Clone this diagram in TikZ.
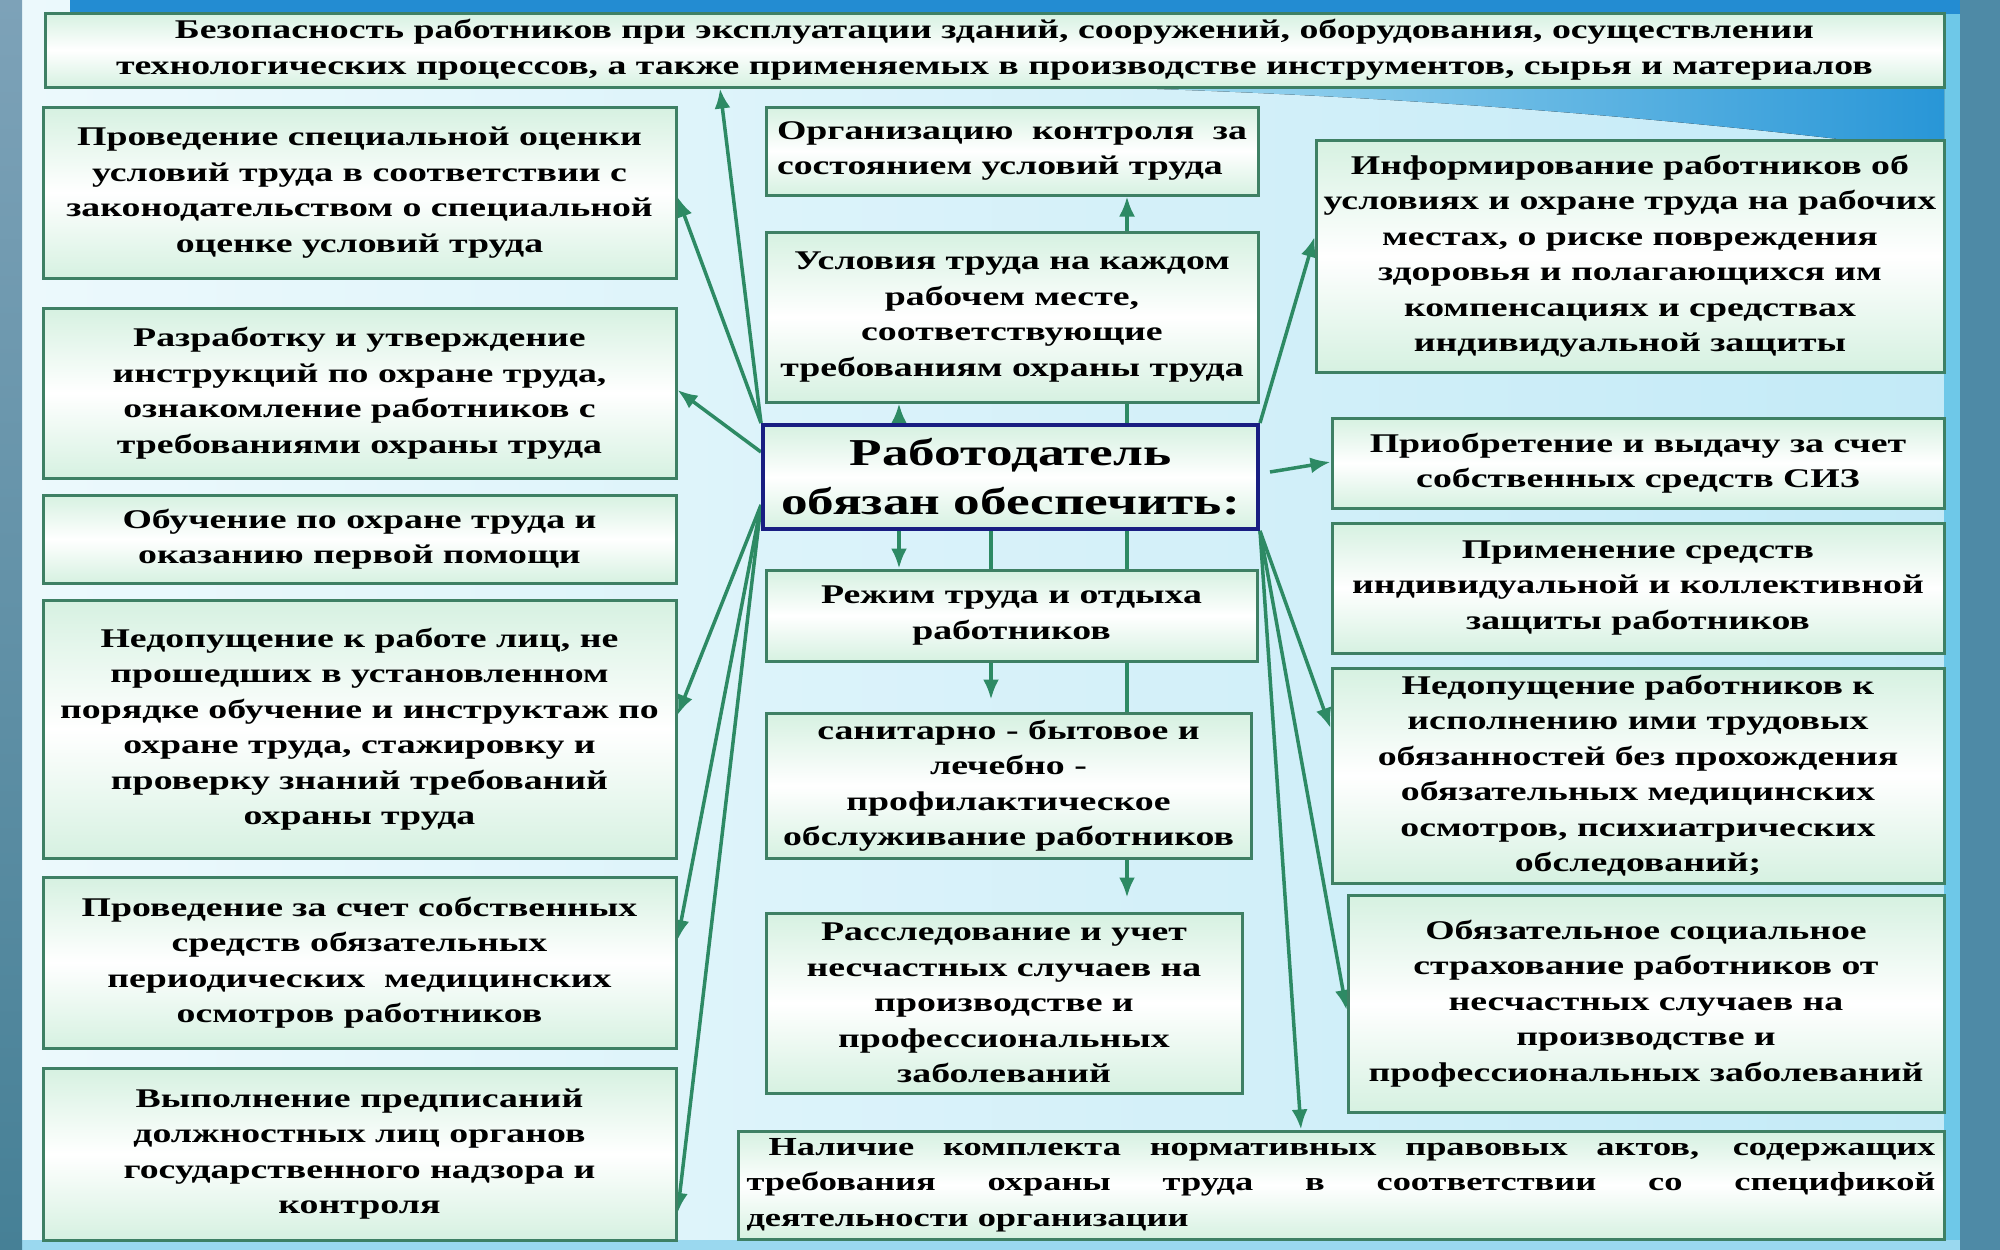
\documentclass[tikz,border=0pt]{standalone}
\usepackage{fontspec}
\setmainfont{Liberation Serif}[FakeStretch=1.4]
\usetikzlibrary{arrows.meta}
\pgfdeclarelayer{back}
\pgfdeclarelayer{lines}
\pgfsetlayers{back,lines,main}
\definecolor{boxgreen}{RGB}{62,128,100}
\definecolor{arrgreen}{RGB}{45,138,100}
\definecolor{navyb}{RGB}{25,30,130}
\definecolor{mint}{RGB}{214,241,225}
\definecolor{stripL}{RGB}{125,162,184}
\definecolor{stripLd}{RGB}{70,128,150}
\definecolor{stripR}{RGB}{78,138,166}
\definecolor{topblue}{RGB}{35,140,210}
\definecolor{bgpale}{RGB}{236,249,252}
\definecolor{bgright}{RGB}{195,234,247}
\definecolor{bgcyan}{RGB}{110,200,232}
\newcommand\bodyf{\fontsize{27}{35.5}\selectfont\bfseries}
\newcommand\bigf{\fontsize{38}{49}\selectfont\bfseries}
\tikzset{
  box/.style={draw=boxgreen, line width=3pt, top color=mint, bottom color=mint, middle color=white,
    align=center, inner sep=2pt, font=\bodyf, text=black},
  jbox/.style={box, align=justify},
  arr/.style={draw=arrgreen, line width=3.5pt, -{Latex[length=20pt,width=16pt]}},
}
\begin{document}
\begin{tikzpicture}[x=1pt,y=-1pt]
\useasboundingbox (0,0) rectangle (2000,1250);
\begin{pgfonlayer}{back}
  \fill[left color=bgpale, right color=bgright] (22,0) rectangle (1960,1250);
  \fill[bgcyan] (1944,0) rectangle (1960,1250);
  \fill[bgcyan!70!white] (22,1240) rectangle (1960,1250);
  \fill[left color={rgb,255:red,170;green,222;blue,242}, right color={rgb,255:red,40;green,150;blue,215}]
    (1090,87) .. controls (1400,95) and (1700,120) .. (1944,152) -- (1944,87) -- cycle;
  \fill[topblue] (70,0) rectangle (1960,14);
  \fill[top color=stripL, bottom color=stripLd] (0,0) rectangle (22,1250);
  \fill[stripR] (1960,0) rectangle (2000,1250);
\end{pgfonlayer}

% top
\node[box, minimum width=1899pt, minimum height=74pt, font=\fontsize{27}{36}\selectfont\bfseries] (top) at (994.5,50)
  {Безопасность работников при эксплуатации зданий, сооружений, оборудования, осуществлении\\технологических процессов, а также применяемых в производстве инструментов, сырья и материалов};

% left column
\node[box, minimum width=633pt, minimum height=171pt] (L1) at (359.5,192.5)
  {Проведение специальной оценки\\условий труда в соответствии с\\законодательством о специальной\\оценке условий труда};
\node[box, minimum width=633pt, minimum height=170pt] (L2) at (359.5,393)
  {Разработку и утверждение\\инструкций по охране труда,\\ознакомление работников с\\требованиями охраны труда};
\node[box, minimum width=633pt, minimum height=88pt] (L3) at (359.5,539)
  {Обучение по охране труда и\\оказанию первой помощи};
\node[box, minimum width=633pt, minimum height=258pt] (L4) at (359.5,729)
  {Недопущение к работе лиц, не\\прошедших в установленном\\порядке обучение и инструктаж по\\охране труда, стажировку и\\проверку знаний требований\\охраны труда};
\node[box, minimum width=633pt, minimum height=171pt] (L5) at (359.5,962.5)
  {Проведение за счет собственных\\средств обязательных\\периодических\ \ медицинских\\осмотров работников};
\node[box, minimum width=633pt, minimum height=172pt] (L6) at (359.5,1154)
  {Выполнение предписаний\\должностных лиц органов\\государственного надзора и\\контроля};

% center column
\node[jbox, minimum width=492pt, minimum height=88pt, text width=470pt] (C1) at (1012,151)
  {Организацию контроля за\linebreak состоянием условий труда};
\node[box, minimum width=492pt, minimum height=170pt] (C2) at (1012,317)
  {Условия труда на каждом\\рабочем месте,\\соответствующие\\требованиям охраны труда};
\node[box, draw=navyb, line width=4pt, minimum width=495pt, minimum height=104pt, font=\bigf] (C3) at (1010.5,477)
  {Работодатель\\обязан обеспечить:};
\node[box, minimum width=491pt, minimum height=91pt] (C4) at (1011.5,615.5)
  {Режим труда и отдыха\\работников};
\node[box, minimum width=485pt, minimum height=145pt, inner sep=0pt] (C5) at (1008.5,785.5)
  {санитарно - бытовое и\\лечебно -\\профилактическое\\обслуживание работников};
\node[box, minimum width=476pt, minimum height=180pt, inner sep=0pt] (C6) at (1004,1003)
  {Расследование и учет\\несчастных случаев на\\производстве и\\профессиональных\\заболеваний};
\node[jbox, minimum width=1206pt, minimum height=108pt, text width=1189pt, font=\fontsize{26}{35.5}\selectfont\bfseries] (C7) at (1341,1185)
  {\hspace*{22pt}Наличие комплекта нормативных правовых актов, содержащих\linebreak требования охраны труда в соответствии со спецификой\linebreak деятельности организации};

% right column
\node[box, minimum width=628pt, minimum height=232pt] (R1) at (1630,256)
  {Информирование работников об\\условиях и охране труда на рабочих\\местах, о риске повреждения\\здоровья и полагающихся им\\компенсациях и средствах\\индивидуальной защиты};
\node[box, minimum width=612pt, minimum height=90pt] (R2) at (1638,463)
  {Приобретение и выдачу за счет\\собственных средств СИЗ};
\node[box, minimum width=612pt, minimum height=130pt] (R3) at (1638,588)
  {Применение средств\\индивидуальной и коллективной\\защиты работников};
\node[box, minimum width=612pt, minimum height=215pt] (R4) at (1638,775.5)
  {Недопущение работников к\\исполнению ими трудовых\\обязанностей без прохождения\\обязательных медицинских\\осмотров, психиатрических\\обследований;};
\node[box, minimum width=596pt, minimum height=217pt] (R5) at (1646,1003.5)
  {Обязательное социальное\\страхование работников от\\несчастных случаев на\\производстве и\\профессиональных заболеваний};

\begin{pgfonlayer}{lines}
  % vertical connectors in the centre
  \draw[arr] (899,0 |- C3.north) -- (899,0 |- C2.south);
  \draw[arr] (1127,0 |- C3.north) -- (1127,0 |- C1.south);
  \draw[arr] (899,0 |- C3.south) -- (899,0 |- C4.north);
  \draw[arr, shorten >=12pt] (991,0 |- C3.south) -- (991,0 |- C5.north);
  \draw[arr, shorten >=14pt] (1127,0 |- C3.south) -- (1127,0 |- C6.north);
  % left fan
  \draw[arr] (C3.north west) -- (720,0 |- top.south);
  \draw[arr] (C3.north west) -- (L1.east |- 0,197);
  \draw[arr] (C3.west |- 0,452) -- (L2.east |- 0,390);
  \draw[arr] (C3.west |- 0,505) -- (L4.east |- 0,715);
  \draw[arr] (C3.west |- 0,505) -- (L5.east |- 0,940);
  \draw[arr] (C3.west |- 0,505) -- (L6.east |- 0,1213);
  % right fan
  \draw[arr] (C3.north east) -- (R1.west |- 0,237);
  \draw[arr] ([xshift=10pt]C3.east |- 0,472) -- (R2.west |- 0,462);
  \draw[arr] (C3.south east) -- (R4.west |- 0,728);
  \draw[arr] (C3.south east) -- (R5.west |- 0,1010);
  \draw[arr] (C3.south east) -- (1301,0 |- C7.north);
\end{pgfonlayer}
\end{tikzpicture}
\end{document}
